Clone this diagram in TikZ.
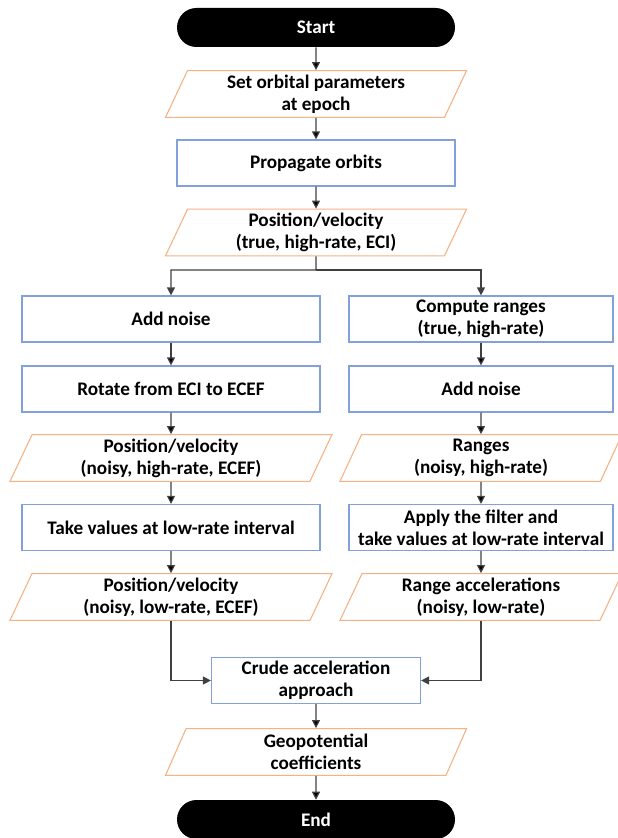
\documentclass[tikz,border=0pt]{standalone}
\usepackage{fontspec}
\setmainfont{Carlito}
\usetikzlibrary{arrows.meta,shapes.geometric,positioning}
\definecolor{ioorange}{RGB}{244,177,131}
\definecolor{procblue}{RGB}{130,160,218}
\definecolor{linegray}{RGB}{64,64,64}
\tikzset{>={Triangle[width=6pt,length=6pt]},
  base/.style={font=\fontsize{14.4}{16.5}\selectfont\bfseries,align=center,inner sep=2pt},
  term/.style={base,fill=black,text=white,rounded corners=14.6pt,
    minimum width=208.5pt,minimum height=29.25pt},
  io/.style={base,draw=ioorange,line width=0.8pt,trapezium,
    trapezium left angle=63.4,trapezium right angle=116.6,
    trapezium stretches body,minimum height=35pt},
  proc/.style={base,draw=procblue,line width=0.9pt,minimum height=34.5pt},
  flow/.style={->,draw=linegray,line width=0.9pt}}

\begin{document}
\begin{tikzpicture}[x=0.75pt,y=-0.75pt]
\useasboundingbox (0,0) rectangle (617,838);
% main line
\node[term] (st) at (316,27.5) {Start};
\node[io,minimum width=225.75pt] (set) at (316,94) {Set orbital parameters\\at epoch};
\node[proc,minimum width=208.5pt] (prop) at (316,163) {Propagate orbits};
\node[io,minimum width=225.75pt] (pv0) at (316,232.5) {Position/velocity\\(true, high-rate, ECI)};
\coordinate (sp) at (316,270);
% left branch
\node[proc,minimum width=223.5pt] (an1) at (171,319) {Add noise};
\node[proc,minimum width=223.5pt] (rot) at (171,389) {Rotate from ECI to ECEF};
\node[io,minimum width=241.5pt] (pv1) at (171,458) {Position/velocity\\(noisy, high-rate, ECEF)};
\node[proc,minimum width=223.5pt] (tv) at (171,527.5) {Take values at low-rate interval};
\node[io,minimum width=241.5pt] (pv2) at (171,597) {Position/velocity\\(noisy, low-rate, ECEF)};
% right branch
\node[proc,minimum width=198pt] (cr) at (481,319) {Compute ranges\\(true, high-rate)};
\node[proc,minimum width=198pt] (an2) at (481,389) {Add noise};
\node[io,minimum width=211.5pt] (rg) at (481,458) {Ranges\\(noisy, high-rate)};
\node[proc,minimum width=198pt] (af) at (481,527.5) {Apply the filter and\\take values at low-rate interval};
\node[io,minimum width=211.5pt] (ra) at (481,597) {Range accelerations\\(noisy, low-rate)};
% end
\node[proc,minimum width=156.75pt] (cru) at (316,680.5) {Crude acceleration\\approach};
\node[io,minimum width=225.75pt] (geo) at (316,752) {Geopotential\\coefficients};
\node[term] (en) at (316,819.5) {End};

\path[flow]
  (st) edge (set)
  (set) edge (prop)
  (prop) edge (pv0)
  (an1) edge (rot)
  (rot) edge (pv1)
  (pv1) edge (tv)
  (tv) edge (pv2)
  (cr) edge (an2)
  (an2) edge (rg)
  (rg) edge (af)
  (af) edge (ra)
  (cru) edge (geo)
  (geo) edge (en);
\draw[flow] (pv0.south) -- (sp) -| (an1.north);
\draw[flow] (sp) -| (cr.north);
\draw[flow] (pv2.south) |- (cru.west);
\draw[flow] (ra.south) |- (cru.east);
\end{tikzpicture}
\end{document}
